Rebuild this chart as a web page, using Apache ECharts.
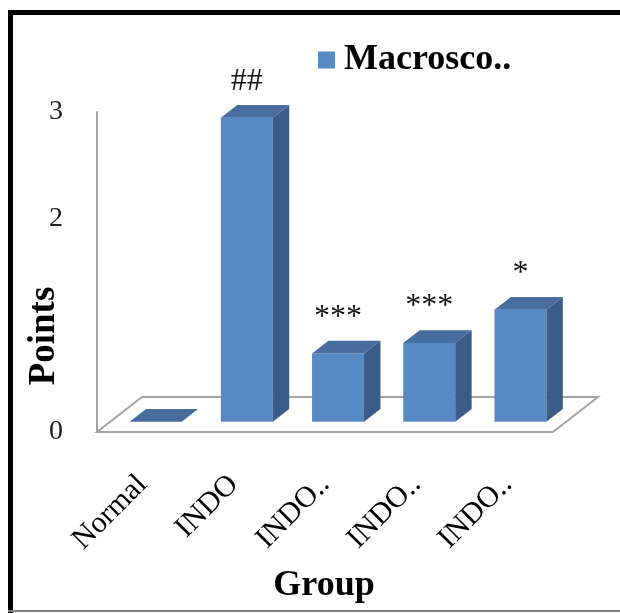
<!DOCTYPE html>
<html>
<head>
<meta charset="utf-8">
<script src="https://cdn.jsdelivr.net/npm/echarts@6/dist/echarts.min.js"></script>
<style>
  html, body { margin: 0; padding: 0; background: #fff; }
  #chart { width: 620px; height: 613px; }
</style>
</head>
<body>
<div id="chart"></div>
<script>
// Group names along the category axis
const categories = ['Normal', 'INDO', 'INDO..', 'INDO..', 'INDO..'];
// Mean macroscopic score per group
const scores = [0, 2.85, 0.64, 0.74, 1.05];
// Significance markers drawn above each column
const marks = ['', '##', '***', '***', '*'];
// Value axis ticks
const yTicks = [0, 1, 2, 3];
const seriesName = 'Macrosco..';

const SERIF = '"Liberation Serif", "Times New Roman", serif';
const FRONT = '#5789c5';
const TOP = '#476d9f';
const SIDE = '#3b5c88';

// Depth of the floor, as a fraction of one category band
const DEPTH_X = 0.493, DEPTH_Y = -0.384;
const BAR_FRONT = 0.29, BAR_BACK = 0.655, BAR_W = 0.57;

const chart = echarts.init(document.getElementById('chart'), null, { renderer: 'canvas' });

function renderFloor(params, api) {
  const cs = params.coordSys;
  const band = api.size([1, 0])[0];
  const dx = band * DEPTH_X, dy = band * DEPTH_Y;
  const x0 = cs.x, x1 = cs.x + cs.width, y0 = cs.y + cs.height;
  return {
    type: 'polygon',
    shape: { points: [[x0, y0], [x1, y0], [x1 + dx, y0 + dy], [x0 + dx, y0 + dy]] },
    style: { fill: '#fff', stroke: '#a3a3a3', lineWidth: 2 }
  };
}

function renderColumn(params, api) {
  const i = api.value(0);
  const v = api.value(1);
  const band = api.size([1, 0])[0];
  const dx = band * DEPTH_X, dy = band * DEPTH_Y;
  const top = api.coord([i, v]);
  const base = api.coord([i, 0]);
  const w = band * BAR_W;
  const x0 = top[0] - w / 2 + BAR_FRONT * dx;
  const x1 = x0 + w;
  const yTop = top[1] + BAR_FRONT * dy;
  const yBot = base[1] + BAR_FRONT * dy;
  const bx = (BAR_BACK - BAR_FRONT) * dx, by = (BAR_BACK - BAR_FRONT) * dy;
  const children = [];
  if (yBot - yTop > 0.5) {
    children.push({
      type: 'rect',
      shape: { x: x0, y: yTop, width: w, height: yBot - yTop },
      style: { fill: FRONT }
    });
    children.push({
      type: 'polygon',
      shape: { points: [[x1, yTop], [x1 + bx, yTop + by], [x1 + bx, yBot + by], [x1, yBot]] },
      style: { fill: SIDE }
    });
  }
  children.push({
    type: 'polygon',
    shape: { points: [[x0, yTop], [x1, yTop], [x1 + bx, yTop + by], [x0 + bx, yTop + by]] },
    style: { fill: TOP }
  });
  const mark = marks[i];
  if (mark) {
    children.push({
      type: 'text',
      style: {
        text: mark, x: x0 + w / 2, y: yTop - 36,
        textAlign: 'center', textVerticalAlign: 'middle',
        font: '32px ' + SERIF, fill: '#111'
      }
    });
  }
  return { type: 'group', children };
}

const option = {
  animation: false,
  backgroundColor: '#fff',
  grid: { left: 97, right: 67, top: 112, bottom: 181, containLabel: false },
  legend: {
    data: [seriesName],
    left: 313, top: 37,
    icon: 'rect', itemWidth: 17, itemHeight: 17,
    textStyle: { fontFamily: SERIF, fontWeight: 'bold', fontSize: 36, color: '#000', padding: [0, 0, 0, 4] }
  },
  xAxis: {
    type: 'category',
    data: categories,
    axisLine: { show: false },
    axisTick: { show: false },
    axisLabel: {
      interval: 0, rotate: 45, margin: 48,
      fontFamily: SERIF, fontSize: 30, color: '#000'
    }
  },
  yAxis: {
    type: 'value',
    min: yTicks[0], max: yTicks[yTicks.length - 1], interval: 1,
    axisLine: { show: true, lineStyle: { color: '#a3a3a3', width: 2 } },
    axisTick: { show: false },
    splitLine: { show: false },
    axisLabel: {
      margin: 34, fontFamily: SERIF, fontSize: 28, color: '#222',
      formatter: v => (v === 1 ? '' : String(v))
    }
  },
  graphic: [
    { type: 'rect', shape: { x: 8, y: 10, width: 5, height: 603 }, style: { fill: '#000' } },
    { type: 'rect', shape: { x: 8, y: 10, width: 612, height: 5 }, style: { fill: '#000' } },
    { type: 'line', shape: { x1: 8, y1: 611, x2: 620, y2: 611 }, style: { stroke: '#7f7f7f', lineWidth: 2 } },
    {
      type: 'text', x: 44, y: 336, rotation: Math.PI / 2,
      style: { text: 'Points', textAlign: 'center', textVerticalAlign: 'middle',
               font: 'bold 37px ' + SERIF, fill: '#000' }
    },
    {
      type: 'text', x: 324, y: 586,
      style: { text: 'Group', textAlign: 'center', textVerticalAlign: 'middle',
               font: 'bold 36px ' + SERIF, fill: '#000' }
    }
  ],
  series: [
    {
      type: 'custom',
      silent: true,
      z: 1,
      renderItem: renderFloor,
      data: [[0, 0]]
    },
    {
      name: seriesName,
      type: 'custom',
      z: 2,
      itemStyle: { color: FRONT },
      renderItem: renderColumn,
      encode: { x: 0, y: 1 },
      data: scores.map((s, i) => [i, s])
    }
  ]
};

chart.setOption(option);
</script>
</body>
</html>
